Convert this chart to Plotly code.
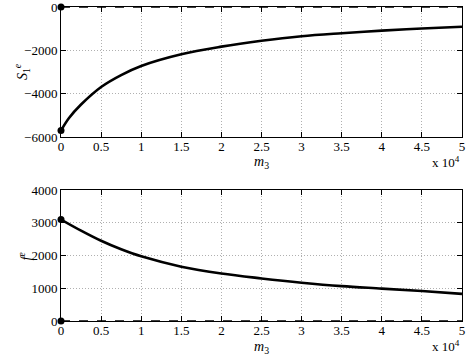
import plotly.graph_objects as go
from plotly.subplots import make_subplots

m3 = [0, 1000, 2500, 5000, 7500, 10000, 15000, 20000, 25000, 30000, 35000, 40000, 45000, 50000]
S1e = [-5700, -5120, -4500, -3690, -3140, -2720, -2180, -1830, -1560, -1350, -1210, -1090, -990, -910]
m3_f = [0, 2500, 5000, 7500, 10000, 15000, 20000, 25000, 30000, 35000, 40000, 45000, 50000]
fe = [3100, 2760, 2450, 2190, 1975, 1660, 1450, 1300, 1170, 1065, 990, 915, 830]
x_tickvals = [0, 5000, 10000, 15000, 20000, 25000, 30000, 35000, 40000, 45000, 50000]
x_ticktext = ["0", "0.5", "1", "1.5", "2", "2.5", "3", "3.5", "4", "4.5", "5"]
top_ticks = [-6000, -4000, -2000, 0]
bot_ticks = [0, 1000, 2000, 3000, 4000]

FONT = "Liberation Serif"
TF = dict(family=FONT, size=13, color="black")
fig = make_subplots(rows=2, cols=1, vertical_spacing=0.168)

# top panel
fig.add_trace(go.Scatter(x=[m3[0], m3[-1]], y=[0, 0], mode="lines",
                         line=dict(color="black", width=1.3, dash="dash"),
                         showlegend=False, cliponaxis=False), row=1, col=1)
fig.add_trace(go.Scatter(x=m3, y=S1e, mode="lines", line=dict(color="black", width=2.6, shape="spline"),
                         showlegend=False), row=1, col=1)
fig.add_trace(go.Scatter(x=[m3[0], m3[0]], y=[0, S1e[0]], mode="markers",
                         marker=dict(color="black", size=7), showlegend=False, cliponaxis=False), row=1, col=1)

# bottom panel
fig.add_trace(go.Scatter(x=[m3_f[0], m3_f[-1]], y=[0, 0], mode="lines",
                         line=dict(color="black", width=1.3, dash="dash"),
                         showlegend=False, cliponaxis=False), row=2, col=1)
fig.add_trace(go.Scatter(x=m3_f, y=fe, mode="lines", line=dict(color="black", width=2.6, shape="spline"),
                         showlegend=False), row=2, col=1)
fig.add_trace(go.Scatter(x=[m3_f[0], m3_f[0]], y=[0, fe[0]], mode="markers",
                         marker=dict(color="black", size=7), showlegend=False, cliponaxis=False), row=2, col=1)

axis_common = dict(showline=True, linecolor="black", linewidth=1, mirror="ticks",
                   ticks="inside", ticklen=5, tickcolor="black", automargin=False,
                   ticklabeloverflow="allow",
                   showgrid=True, gridcolor="#b0b0b0", griddash="1px,2px", gridwidth=1,
                   zeroline=False, tickfont=TF)

for r in (1, 2):
    fig.update_xaxes(range=[0, 50000], tickvals=x_tickvals, ticktext=x_ticktext,
                     ticklabelstandoff=-3, row=r, col=1, **axis_common)

fig.update_yaxes(range=[-6000, 0], tickvals=top_ticks, domain=[0.586, 1.0], row=1, col=1, **axis_common)
fig.update_yaxes(range=[0, 4000], tickvals=bot_ticks, domain=[0.0, 0.417], row=2, col=1, **axis_common)

for xr, yr in (("x domain", "y domain"), ("x2 domain", "y2 domain")):
    fig.add_annotation(text="<i>m</i><sub>3</sub>", xref=xr, yref=yr, x=0.5, y=-0.2,
                       xanchor="center", yanchor="middle", showarrow=False,
                       font=dict(family=FONT, size=14, color="black"))
    fig.add_annotation(text="x 10<sup>4</sup>", xref=xr, yref=yr, x=1.0, y=-0.19,
                       xanchor="right", yanchor="middle", showarrow=False,
                       font=TF)

fig.add_annotation(text="<i>S</i><sub>1</sub><sup><i>e</i></sup>", xref="x domain", yref="y domain",
                   x=-0.097, y=0.5, textangle=-90, xanchor="center", yanchor="middle",
                   showarrow=False, font=dict(family=FONT, size=14, color="black"))
fig.add_annotation(text="<i>f</i><sup><i>e</i></sup>", xref="x2 domain", yref="y2 domain",
                   x=-0.09, y=0.5, textangle=-90, xanchor="center", yanchor="middle",
                   showarrow=False, font=dict(family=FONT, size=14, color="black"))

fig.update_layout(width=466, height=356, margin=dict(l=61, r=4, t=7, b=35, autoexpand=False),
                  plot_bgcolor="white", paper_bgcolor="white", showlegend=False)
fig.write_html("out.html", config={"displayModeBar": False},
               post_script="document.body.style.margin='0';document.body.style.overflow='hidden';")
